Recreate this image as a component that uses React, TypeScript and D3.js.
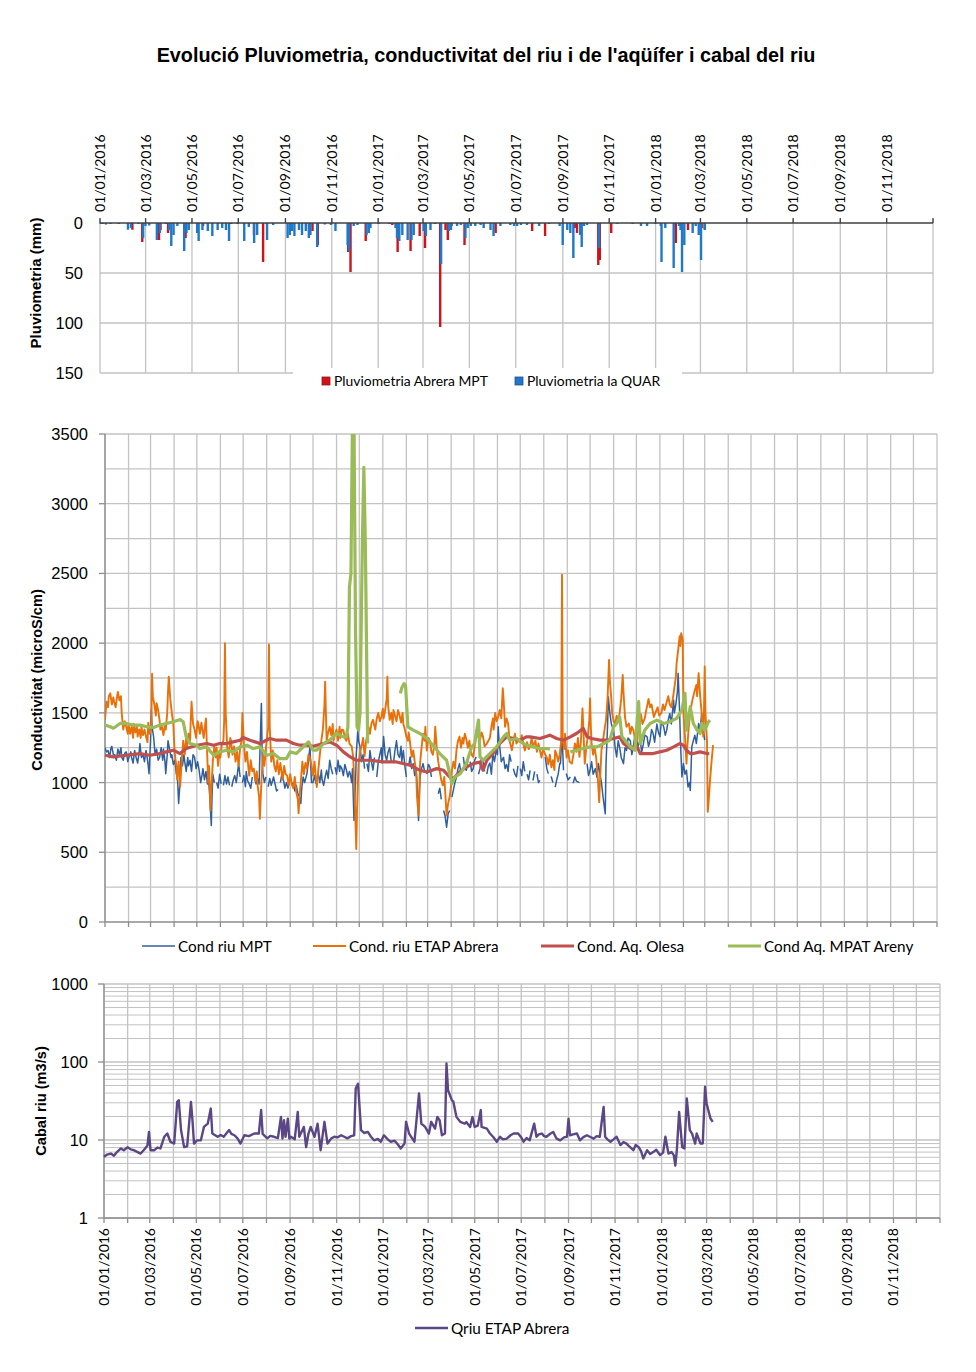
import { useRef, useEffect } from "react";
import * as d3 from "d3";

// All series are [day offset from 01/01/2016, value]; null marks a gap in the line
const START = "2016-01-01";
const END = "2019-01-01";

const TITLE = "Evolució Pluviometria, conductivitat del riu i de l'aqüífer i cabal del riu";

// Pluviometria (mm)
const rainMPT: [number, number][] = [
  [43, 6.7], [56, 19], [78, 17], [80, 7], [90, 10], [113, 15], [136, 3], [173, 1], [203, 12], [215, 39],
  [280, 8], [287, 22], [327, 29], [330, 49], [350, 18], [385, 2], [392, 29], [409, 28], [421, 13], [428, 25],
  [448, 104], [455, 7], [458, 17], [463, 3], [480, 22], [521, 10], [569, 8], [586, 13], [625, 5], [628, 10],
  [656, 42], [658, 37], [673, 10], [758, 20], [774, 7], [792, 5], [796, 6],
];
const rainQUAR: [number, number][] = [
  [0, 1], [3, 1], [7, 1.5], [13, 1], [24, 1], [36, 6.7], [40, 5], [50, 1], [56, 15], [59, 3], [64, 2.5],
  [74, 17], [78, 10], [86, 1], [90, 7], [93, 23], [96, 12], [101, 3], [110, 28], [113, 10], [116, 7],
  [127, 10], [129, 18], [134, 7], [141, 8], [147, 13], [154, 7], [160, 5], [165, 7], [169, 18], [180, 1],
  [189, 18], [195, 4], [202, 20], [206, 12], [219, 17], [227, 2], [246, 15], [249, 12], [252, 8], [255, 13],
  [261, 7], [265, 12], [270, 8], [274, 15], [276, 12], [285, 24], [295, 1.5], [303, 2], [309, 8], [325, 22],
  [327, 28], [333, 3], [338, 2], [350, 12], [353, 10], [355, 5], [366, 1], [380, 1], [388, 5], [390, 15],
  [393, 18], [397, 12], [404, 17], [409, 17], [412, 12], [425, 8], [428, 13], [434, 7], [440, 1], [448, 41],
  [458, 8], [461, 7], [469, 3], [474, 2], [480, 15], [483, 5], [487, 3], [493, 3], [500, 2], [504, 5],
  [513, 7], [517, 13], [526, 3], [539, 2], [544, 3], [548, 3], [553, 2], [561, 2], [577, 3], [590, 1],
  [604, 3], [608, 22], [614, 7], [618, 10], [622, 35], [631, 12], [633, 24], [636, 3], [640, 2], [656, 25],
  [680, 1], [700, 1], [711, 3], [719, 3], [730, 1], [737, 3], [738, 39], [743, 5], [754, 45], [761, 3],
  [763, 7], [765, 49], [768, 22], [779, 10], [783, 3], [787, 12], [790, 37], [795, 7],
];

// Conductivitat (microS/cm)
const condRiuMPT: [number, number | null][] = [
  [0, 1250], [2, 1220], [4, 1230], [6, 1180], [8, 1250], [9, 1260], [11, 1200], [13, 1200], [15, 1160],
  [17, 1240], [19, 1200], [21, 1250], [22, 1180], [24, 1160], [26, 1210], [28, 1220], [30, 1150], [32, 1190],
  [34, 1220], [35, 1180], [37, 1140], [39, 1230], [41, 1180], [43, 1140], [45, 1220], [46, 1280], [48, 1180],
  [50, 1200], [52, 1150], [54, 1230], [55, 1200], [57, 1120], [58, 1064], [60, 1300], [61, 1520], [62, 1400],
  [64, 1330], [66, 1200], [68, 1240], [70, 1160], [72, 1180], [74, 1250], [76, 1160], [77, 1240], [79, 1150],
  [80, 1064], [82, 1200], [83, 1300], [85, 1240], [87, 1180], [88, 1200], [90, 1130], [92, 1160], [94, 1060],
  [95, 1100], [97, 850], [99, 1020], [100, 1180], [102, 1120], [104, 1200], [105, 1150], [107, 1080],
  [109, 1180], [110, 1120], [112, 1160], [114, 1080], [116, 1200], [118, 1180], [120, 1100], [122, 1150],
  [124, 1090], [126, 1000], [128, 1060], [129, 1100], [131, 1020], [133, 1080], [135, 990], [136, 1060],
  [138, 900], [140, 692], [141, 900], [142, 1060], [144, 1000], [145, null], [147, 1000], [149, 960],
  [151, 1060], [153, 990], [154, null], [156, 980], [158, 1050], [160, 990], [162, 1040], [164, 980],
  [165, null], [167, 970], [169, 1020], [171, 1050], [173, 1000], [176, 1136], [178, 1040], [179, null],
  [181, 1000], [183, 1050], [185, 970], [186, 1080], [188, 1010], [190, 990], [192, 960], [194, 1040],
  [195, null], [197, 1060], [199, 990], [201, 1030], [203, 990], [204, 1200], [206, 1568], [207, 1200],
  [208, 1064], [210, 1000], [212, 1040], [213, null], [215, 970], [217, 1030], [219, 980], [222, 1040],
  [224, 990], [226, 940], [228, 950], [229, null], [231, 1000], [233, 1060], [235, 1020], [237, 960],
  [239, 1000], [241, 960], [243, 1010], [244, null], [246, 980], [248, 1000], [250, 940], [252, 980],
  [254, 920], [256, 900], [258, 850], [259, 950], [261, 1040], [263, 1000], [266, 1064], [268, 1150],
  [270, 1256], [271, 1120], [272, 1000], [274, 1000], [276, 1050], [278, 990], [279, null], [281, 1060],
  [283, 1000], [285, 1090], [286, 1020], [288, 980], [290, 1040], [292, 1088], [294, 1030], [296, 1160],
  [298, 1100], [300, 1060], [301, null], [303, 1110], [305, 1060], [307, 1160], [309, 1080], [310, 1120],
  [312, 1100], [314, 1050], [316, 1130], [318, 1090], [320, 1040], [322, 1080], [323, 1064], [325, 1000],
  [326, 1100], [328, 728], [330, 1000], [331, 1200], [333, 1376], [334, 1300], [336, 1256], [338, 1150],
  [340, 1200], [342, 1100], [343, null], [345, 1136], [347, 1080], [349, 1230], [351, 1150], [353, 1090],
  [355, 1180], [356, null], [358, 1040], [360, 1150], [362, 1200], [364, 1250], [365, 1140], [367, 1330],
  [369, 1200], [371, 1160], [373, 1220], [375, 1250], [377, 1150], [378, null], [380, 1140], [382, 1230],
  [384, 1300], [386, 1200], [388, 1180], [390, 1260], [391, 1150], [393, 1230], [395, 1120], [397, 1040],
  [398, null], [400, 1120], [402, 1184], [404, 1100], [406, 1136], [408, 1050], [410, 1090], [412, 900],
  [413, 728], [414, 900], [415, 1040], [417, 1100], [419, 1136], [421, 1080], [422, null], [424, 1060],
  [426, 1130], [428, 1110], [430, 1040], [431, null], [433, 1050], [436, null], [439, 920], [441, 960],
  [443, 880], [444, null], [446, 800], [448, 760], [450, 680], [452, 776], [454, 800], [455, null],
  [457, 896], [459, 950], [461, 1000], [463, 1040], [465, 1100], [467, 1136], [469, 1060], [470, null],
  [472, 1184], [474, 1100], [476, 1088], [478, 1160], [479, null], [481, 1150], [483, 1080], [485, 1100],
  [487, 1160], [489, 1184], [490, null], [492, 1060], [494, 1100], [496, 1180], [498, 1150], [500, 1080],
  [501, null], [503, 1060], [505, 1120], [507, 1140], [509, 1060], [511, 1210], [513, 1150], [516, 1256],
  [517, 1200], [518, 1400], [519, 1300], [520, 1256], [522, 1150], [525, 1180], [527, 1100], [529, 1130],
  [531, 1080], [533, 1200], [535, 1150], [536, null], [538, 1100], [540, 1060], [542, 1040], [544, 1120],
  [545, null], [547, 1100], [549, 1050], [551, 1150], [553, 1080], [554, null], [556, 1060], [558, 1020],
  [560, 1088], [561, null], [563, 1020], [564, 1020], [566, 1080], [567, null], [569, 1060], [571, 1000],
  [573, 1016], [576, null], [580, 1184], [582, 1100], [584, 1064], [585, null], [587, 1040], [588, 1040],
  [590, 1000], [591, null], [593, 968], [595, 1020], [597, 1060], [599, 1136], [600, 1136], [602, 1352],
  [604, 1088], [605, null], [607, 1060], [608, 1060], [610, 1020], [613, 1040], [614, null], [616, 1000],
  [617, 1000], [619, 1040], [621, 1010], [625, 1000], [628, null], [635, 1136], [637, 1050], [639, 1088],
  [641, 1150], [643, 1060], [646, 1100], [648, 1040], [650, 1136], [652, 1060], [654, 1000], [656, 900],
  [659, 776], [660, 1136], [662, 1400], [663, 1616], [665, 1500], [667, 1420], [670, 1376], [672, 1250],
  [674, 1184], [676, 1300], [678, 1250], [680, 1180], [683, 1136], [685, 1250], [687, 1230], [689, 1320],
  [692, 1300], [694, 1200], [696, 1256], [698, 1340], [700, 1330], [702, 1260], [705, 1304], [707, 1220],
  [709, 1270], [711, 1340], [714, 1330], [716, 1260], [718, 1300], [720, 1380], [722, 1352], [724, 1290],
  [727, 1420], [729, 1360], [731, 1330], [733, 1440], [736, 1400], [738, 1340], [740, 1376], [742, 1450],
  [744, 1496], [746, 1420], [749, 1592], [750, 1500], [752, 1560], [754, 1650], [755, 1784], [757, 1500],
  [758, 1300], [760, 1040], [762, 1136], [764, 1060], [766, 1088], [768, 968], [770, 1000], [771, 944],
  [773, 1256], [775, 1300], [777, 1340], [779, 1280], [782, 1424], [784, 1376], [786, 1496], [788, 1376],
  [790, 1304],
];
const condRiuETAP: [number, number | null][] = [
  [0, 1450], [2, 1580], [4, 1540], [5, 1620], [7, 1640], [9, 1560], [11, 1610], [12, 1580], [14, 1540],
  [16, 1620], [17, 1650], [19, 1590], [21, 1620], [22, 1500], [24, 1380], [26, 1440], [28, 1400], [30, 1350],
  [31, 1420], [33, 1350], [35, 1400], [37, 1320], [38, 1420], [40, 1360], [42, 1400], [43, 1330], [45, 1380],
  [47, 1320], [48, 1400], [50, 1340], [52, 1380], [54, 1330], [56, 1290], [57, 1430], [59, 1350], [61, 1400],
  [62, 1780], [63, 1620], [65, 1560], [67, 1480], [68, 1570], [70, 1520], [72, 1440], [73, 1380], [75, 1400],
  [77, 1340], [79, 1420], [80, 1380], [82, 1500], [83, 1650], [84, 1760], [86, 1600], [88, 1500], [90, 1420],
  [91, 1300], [92, 1200], [94, 1120], [95, 1020], [97, 1150], [99, 970], [101, 1150], [103, 1300],
  [105, 1200], [107, 1320], [108, 1250], [110, 1350], [112, 1300], [113, 1450], [114, 1580], [116, 1420],
  [118, 1380], [120, 1320], [122, 1440], [123, 1420], [125, 1350], [127, 1430], [128, 1390], [130, 1320],
  [132, 1420], [133, 1460], [134, 1300], [136, 1000], [137, 1120], [139, 800], [140, 950], [142, 1150],
  [144, 1260], [146, 1180], [147, 1250], [149, 1120], [151, 1230], [152, 1180], [154, 1280], [156, 1300],
  [157, 1450], [158, 2000], [159, 1500], [161, 1250], [163, 1180], [165, 1320], [166, 1300], [168, 1200],
  [170, 1260], [172, 1150], [174, 1220], [176, 1120], [178, 1250], [180, 1300], [181, 1500], [183, 1280],
  [185, 1150], [187, 1220], [189, 1100], [190, 1050], [192, 1160], [194, 1080], [196, 1100], [198, 1010],
  [200, 1080], [201, 980], [203, 900], [204, 740], [206, 1000], [208, 1200], [210, 1120], [212, 1250],
  [213, 1300], [215, 1400], [216, 1990], [217, 1400], [219, 1150], [221, 1230], [223, 1120], [225, 1080],
  [227, 1160], [229, 1060], [231, 1140], [232, 1100], [234, 1020], [236, 1120], [238, 1060], [240, 1050],
  [242, 980], [244, 1060], [246, 990], [248, 960], [250, 1040], [252, 930], [254, 880], [255, 780],
  [257, 950], [259, 1080], [260, 1150], [262, 1060], [264, 1140], [266, 1100], [268, 1200], [270, 1180],
  [272, 1120], [274, 1050], [276, 1150], [278, 1020], [279, 968], [281, 1090], [283, 1200], [285, 1300],
  [287, 1380], [289, 1550], [290, 1724], [291, 1500], [292, 1300], [294, 1360], [296, 1400], [298, 1340],
  [300, 1420], [301, 1300], [303, 1350], [305, 1380], [307, 1300], [309, 1400], [310, 1320], [312, 1380],
  [314, 1376], [316, 1320], [318, 1300], [320, 1350], [322, 1280], [325, 1260], [327, 1180], [329, 900],
  [331, 524], [332, 800], [334, 1136], [336, 1220], [338, 1260], [340, 1320], [342, 1190], [344, 1300],
  [346, 1360], [347, 1400], [349, 1350], [351, 1424], [353, 1450], [356, 1380], [358, 1460], [360, 1500],
  [362, 1440], [364, 1470], [366, 1530], [367, 1460], [369, 1520], [371, 1600], [372, 1760], [373, 1550],
  [375, 1450], [377, 1500], [379, 1420], [380, 1520], [382, 1480], [384, 1440], [386, 1520], [388, 1484],
  [390, 1430], [392, 1500], [393, 1420], [395, 1380], [397, 1330], [399, 1300], [400, 1360], [402, 1280],
  [404, 1184], [406, 1230], [408, 1150], [410, 1064], [411, 900], [413, 764], [414, 900], [415, 1136],
  [417, 1250], [419, 1350], [421, 1300], [422, 1400], [424, 1230], [426, 1320], [428, 1300], [430, 1220],
  [432, 1200], [434, 1280], [435, 1400], [437, 1250], [439, 1150], [441, 1080], [443, 1016], [445, 980],
  [447, 1040], [448, 944], [450, 764], [452, 850], [454, 896], [456, 980], [457, 1088], [459, 1150],
  [461, 1100], [463, 1232], [465, 1300], [467, 1330], [469, 1250], [471, 1320], [472, 1280], [474, 1350],
  [476, 1310], [478, 1250], [480, 1300], [481, 1256], [483, 1200], [485, 1184], [487, 1260], [489, 1376],
  [491, 1330], [492, 1420], [494, 1300], [496, 1360], [498, 1330], [500, 1260], [503, 1280], [505, 1300],
  [507, 1320], [509, 1400], [511, 1460], [512, 1380], [514, 1500], [516, 1440], [518, 1470], [520, 1520],
  [522, 1460], [524, 1676], [525, 1600], [527, 1400], [529, 1460], [531, 1424], [533, 1300], [536, 1232],
  [538, 1300], [540, 1350], [542, 1280], [544, 1300], [547, 1290], [549, 1340], [551, 1280], [553, 1230],
  [556, 1290], [558, 1240], [560, 1256], [562, 1320], [564, 1260], [567, 1300], [569, 1220], [571, 1280],
  [573, 1230], [575, 1180], [577, 1240], [580, 1200], [582, 1180], [584, 1130], [586, 1200], [588, 1110],
  [590, 1160], [592, 1090], [593, 1230], [595, 1200], [597, 1150], [599, 1200], [601, 1300], [602, 2490],
  [603, 1300], [605, 1240], [606, 1350], [608, 1180], [610, 1230], [612, 1150], [615, 1136], [617, 1200],
  [619, 1280], [621, 1220], [623, 1320], [625, 1184], [627, 1300], [629, 1532], [630, 1400], [632, 1136],
  [634, 1250], [636, 1330], [638, 1450], [639, 1604], [640, 1400], [641, 1280], [643, 1200], [645, 1250],
  [647, 1180], [649, 1050], [651, 860], [652, 1000], [654, 1232], [656, 1300], [658, 1380], [660, 1450],
  [662, 1600], [664, 1880], [665, 1736], [667, 1600], [668, 1500], [670, 1440], [672, 1424], [674, 1480],
  [676, 1440], [678, 1500], [680, 1600], [682, 1772], [683, 1650], [685, 1470], [687, 1400], [690, 1424],
  [692, 1350], [694, 1400], [696, 1376], [698, 1320], [700, 1280], [702, 1350], [704, 1440], [706, 1490],
  [708, 1420], [711, 1460], [713, 1520], [716, 1600], [718, 1540], [720, 1560], [723, 1470], [725, 1500],
  [728, 1540], [730, 1480], [733, 1500], [735, 1560], [737, 1520], [739, 1560], [742, 1620], [744, 1560],
  [746, 1540], [748, 1600], [750, 1680], [752, 1760], [753, 1856], [755, 1950], [757, 2050], [758, 1980],
  [759, 2072], [761, 2024], [762, 1500], [764, 1330], [766, 1136], [767, 1250], [769, 1400], [771, 1500],
  [773, 1570], [775, 1620], [777, 1664], [779, 1700], [780, 1620], [782, 1784], [784, 1620], [786, 1500],
  [788, 1330], [789, 1500], [790, 1832], [791, 1500], [793, 1300], [794, 790], [795, 850], [797, 1016],
  [799, 1150], [801, 1268],
];
const condAqOlesa: [number, number | null][] = [
  [0, 1196], [11, 1184], [28, 1196], [46, 1208], [59, 1196], [72, 1208], [81, 1220], [90, 1232], [99, 1208],
  [107, 1244], [121, 1268], [134, 1280], [143, 1268], [151, 1280], [160, 1280], [169, 1292], [178, 1304],
  [182, 1323], [191, 1304], [204, 1280], [217, 1316], [226, 1304], [239, 1304], [248, 1280], [257, 1268],
  [266, 1268], [274, 1260], [288, 1280], [296, 1292], [305, 1268], [314, 1220], [323, 1184], [331, 1160],
  [349, 1160], [367, 1148], [384, 1148], [402, 1124], [415, 1088], [424, 1076], [437, 1100], [446, 1088],
  [454, 1040], [459, 1028], [467, 1076], [476, 1112], [485, 1136], [494, 1148], [498, 1088], [503, 1160],
  [511, 1208], [520, 1280], [529, 1328], [538, 1316], [547, 1304], [555, 1328], [560, 1328], [573, 1316],
  [586, 1340], [595, 1316], [604, 1304], [613, 1328], [621, 1352], [630, 1388], [635, 1328], [641, 1316],
  [652, 1304], [661, 1304], [670, 1316], [678, 1328], [683, 1280], [692, 1244], [700, 1268], [705, 1208],
  [714, 1208], [722, 1208], [731, 1220], [740, 1232], [749, 1256], [757, 1280], [762, 1268], [766, 1232],
  [771, 1208], [775, 1208], [784, 1220], [793, 1208], [796, 1208],
];
const condAqMPAT: [number, number | null][] = [
  [0, 1412], [7, 1400], [11, 1390], [20, 1424], [28, 1424], [37, 1412], [46, 1412], [55, 1400], [64, 1395],
  [72, 1412], [81, 1424], [90, 1436], [99, 1453], [103, 1436], [107, 1328], [112, 1280], [121, 1268],
  [125, 1244], [134, 1256], [143, 1196], [151, 1220], [160, 1232], [169, 1220], [178, 1256], [187, 1268],
  [195, 1244], [204, 1256], [213, 1196], [222, 1208], [230, 1172], [239, 1172], [244, 1220], [252, 1208],
  [261, 1256], [268, 1292], [274, 1232], [279, 1232], [288, 1280], [296, 1304], [305, 1352], [314, 1328],
  [318, 1328], [320, 1400], [322, 2400], [324, 2500], [326, 3600], [328, 3600], [330, 2100], [332, 1400],
  [334, 1376], [336, 1500], [339, 2720], [341, 3260], [343, 2700], [346, 1280], [347, null], [389, 1640],
  [391, 1680], [394, 1710], [396, 1690], [399, 1400], [406, 1376], [415, 1352], [424, 1316], [432, 1268],
  [441, 1208], [450, 1160], [454, 1064], [457, 992], [461, 1040], [468, 1064], [476, 1136], [483, 1256],
  [487, 1280], [492, 1448], [494, 1184], [498, 1160], [507, 1208], [516, 1256], [525, 1328], [529, 1352],
  [533, 1304], [542, 1316], [551, 1280], [556, 1268], [564, 1256], [573, 1244], [582, 1244], [586, 1240],
  [587, null], [613, 1220], [621, 1232], [630, 1244], [639, 1256], [648, 1256], [657, 1280], [665, 1304],
  [670, 1400], [674, 1424], [678, 1472], [681, 1328], [685, 1304], [692, 1256], [698, 1232], [703, 1580],
  [705, 1280], [711, 1376], [718, 1424], [727, 1448], [736, 1424], [744, 1436], [753, 1460], [760, 1520],
  [764, 1640], [766, 1376], [771, 1544], [775, 1424], [780, 1376], [784, 1352], [786, 1424], [790, 1376],
  [795, 1436], [797, 1448],
];

// Cabal riu (m3/s)
const qRiuETAP: [number, number][] = [
  [0, 6.1], [4, 6.5], [9, 6.7], [13, 6.3], [17, 7.0], [22, 7.8], [26, 7.4], [31, 8.1], [35, 7.6], [39, 7.4],
  [44, 7.0], [48, 6.7], [52, 7.4], [57, 8.5], [59, 12.7], [61, 7.4], [66, 7.4], [70, 8.0], [74, 7.8],
  [79, 11], [83, 12.1], [87, 9.5], [92, 9], [96, 30.8], [98, 32.4], [101, 13.4], [105, 8.1], [109, 8.3],
  [114, 30.8], [116, 17.9], [118, 9], [122, 9.9], [127, 9.9], [131, 14.7], [136, 16.2], [140, 25.3],
  [142, 12.1], [149, 11], [153, 11.6], [157, 11], [164, 13.4], [167, 12], [171, 11.5], [175, 10.5], [179, 9],
  [184, 11.5], [190, 11.2], [197, 12.1], [203, 12.1], [206, 24.2], [208, 12], [214, 10.5], [218, 11.3],
  [223, 11], [228, 10.6], [232, 19.8], [234, 10.4], [236, 17.9], [238, 11], [241, 18.8], [243, 10.4],
  [245, 11], [250, 10.2], [254, 22.9], [256, 11], [262, 14.7], [265, 8.1], [268, 12], [271, 14.7], [276, 11],
  [280, 16.2], [284, 7.4], [289, 17.1], [293, 9], [298, 10.5], [302, 11], [306, 10.8], [311, 11.5],
  [315, 11], [319, 10.5], [324, 11.2], [328, 11.5], [330, 45.7], [333, 52.8], [337, 13.4], [341, 12.3],
  [346, 12.7], [350, 11], [354, 9.9], [359, 10.3], [363, 9.5], [367, 11.5], [372, 10.2], [376, 9.5],
  [381, 9.8], [385, 8.8], [389, 7.8], [394, 9], [396, 17.1], [400, 12.1], [404, 10.5], [407, 9.5],
  [413, 39.6], [416, 16.2], [421, 14.7], [426, 12.1], [429, 17.1], [434, 14], [437, 19.8], [440, 17.9],
  [443, 11.5], [447, 12.1], [449, 95.6], [451, 43.6], [456, 32.4], [458, 31], [462, 19.8], [467, 17.1],
  [473, 16.2], [475, 17], [480, 14.7], [483, 19.8], [486, 14.7], [490, 15.3], [494, 24.2], [495, 14.7],
  [502, 14], [506, 12.1], [510, 11], [515, 9.5], [519, 11], [523, 10.2], [528, 10.4], [533, 11.5],
  [537, 12.1], [543, 12.1], [547, 10.8], [550, 9.5], [554, 10.6], [558, 9.9], [564, 16.2], [567, 11],
  [570, 11.8], [574, 12.1], [577, 11.2], [580, 11], [585, 12], [589, 12.7], [593, 10.5], [598, 9.9],
  [603, 10.8], [607, 11], [609, 18.8], [611, 11.5], [615, 11.8], [620, 12.1], [624, 9.9], [628, 10.8],
  [633, 11.5], [637, 11], [642, 10.4], [646, 11.2], [650, 11], [655, 26.6], [657, 11], [660, 10.2],
  [664, 9.5], [668, 10.2], [672, 11], [677, 8.6], [681, 9.4], [685, 9], [689, 8.2], [694, 7.4], [697, 8.6],
  [701, 8.1], [704, 7.2], [707, 5.8], [712, 7.4], [716, 6.6], [720, 7], [724, 7.5], [729, 6.4], [733, 6.9],
  [736, 11], [740, 6.7], [744, 7], [747, 6.4], [749, 4.7], [751, 7.4], [754, 22.9], [758, 8.1], [761, 7.8],
  [764, 34.1], [768, 13.4], [771, 12.1], [775, 9], [777, 12.1], [782, 9], [785, 9], [788, 48.1], [790, 29.3],
  [795, 19], [798, 17.1],
];

const condSeries = [
  { name: "Cond riu MPT", data: condRiuMPT, color: "#2f5f9e", width: 1.5 },
  { name: "Cond. riu ETAP Abrera", data: condRiuETAP, color: "#e8710a", width: 1.9 },
  { name: "Cond. Aq. Olesa", data: condAqOlesa, color: "#c0504d", width: 3.2 },
  { name: "Cond Aq. MPAT Areny", data: condAqMPAT, color: "#9bbb59", width: 3.2 },
];
const condLegendX = [142, 313, 541, 728];

const rainTicks = [0, 50, 100, 150];
const condTicks = [0, 500, 1000, 1500, 2000, 2500, 3000, 3500];
const flowTicks = [1, 10, 100, 1000];

const GRID = "#c3c3c3";
const AXIS = "#8c8c8c";
const NUM_FONT = "'Liberation Sans', Arial, sans-serif";
const LBL_FONT = "Lato, 'Open Sans', sans-serif";

export default function App() {
  const svgRef = useRef<SVGSVGElement>(null);

  useEffect(() => {
    if (!svgRef.current) return;
    const svg = d3.select(svgRef.current);
    svg.selectAll("*").remove();

    const t0 = new Date(START + "T00:00:00");
    const t1 = new Date(END + "T00:00:00");
    const toDate = (d: number) => new Date(t0.getTime() + d * 864e5);
    const fmt = d3.timeFormat("%d/%m/%Y");
    const months = d3.timeMonth.range(t0, d3.timeDay.offset(t1, 1));
    const twoMonths = months.filter((_, i) => i % 2 === 0 && i < months.length - 1);

    svg.append("rect").attr("width", 976).attr("height", 1372).attr("fill", "#fff");

    svg.append("text").attr("x", 486).attr("y", 62).attr("text-anchor", "middle")
      .attr("font-family", NUM_FONT).attr("font-weight", "bold").attr("font-size", "19.8px")
      .text(TITLE);

    const yTitle = (txt: string, x: number, y: number, size: number) =>
      svg.append("text").attr("transform", `translate(${x},${y}) rotate(-90)`)
        .attr("text-anchor", "middle").attr("font-family", NUM_FONT).attr("font-weight", "bold")
        .attr("font-size", `${size}px`).text(txt);

    // ---------- Pluviometria ----------
    {
      const x = d3.scaleTime().domain([t0, t1]).range([100, 933]);
      const y = d3.scaleLinear().domain([0, 150]).range([223, 373]);
      const g = svg.append("g");

      twoMonths.concat([t1]).forEach(d => {
        g.append("line").attr("x1", x(d)).attr("x2", x(d)).attr("y1", 219).attr("y2", 373)
          .attr("stroke", GRID).attr("stroke-width", 1.3);
      });
      rainTicks.slice(1).forEach(v => {
        g.append("line").attr("x1", 100).attr("x2", 933).attr("y1", y(v)).attr("y2", y(v))
          .attr("stroke", GRID).attr("stroke-width", 1.3);
      });

      g.selectAll(".rm").data(rainMPT).join("rect")
        .attr("x", d => x(toDate(d[0])) - 1.5).attr("y", y(0))
        .attr("width", 2.4).attr("height", d => y(d[1]) - y(0)).attr("fill", "#d0121b");
      g.selectAll(".rq").data(rainQUAR).join("rect")
        .attr("x", d => x(toDate(d[0])) - 0.6).attr("y", y(0))
        .attr("width", 2.4).attr("height", d => y(d[1]) - y(0)).attr("fill", "#1f78c8");

      g.append("line").attr("x1", 100).attr("x2", 933).attr("y1", y(0)).attr("y2", y(0))
        .attr("stroke", "#404040").attr("stroke-width", 1.3);
      twoMonths.concat([t1]).forEach(d => {
        g.append("line").attr("x1", x(d)).attr("x2", x(d)).attr("y1", 218).attr("y2", 223)
          .attr("stroke", "#404040").attr("stroke-width", 1.3);
      });

      twoMonths.forEach(d => {
        g.append("text").attr("transform", `translate(${x(d) + 5},212) rotate(-90)`)
          .attr("font-family", LBL_FONT).attr("font-size", "14px").attr("fill", "#000").text(fmt(d));
      });
      rainTicks.forEach(v => {
        g.append("text").attr("x", 83).attr("y", y(v) + 6).attr("text-anchor", "end")
          .attr("font-family", NUM_FONT).attr("font-size", "16.5px").text(v);
      });
      yTitle("Pluviometria (mm)", 41, 283, 15);

      // legend
      g.append("rect").attr("x", 293).attr("y", 368).attr("width", 389).attr("height", 27).attr("fill", "#fff");
      const leg = [
        { name: "Pluviometria Abrera MPT", color: "#d0121b", stroke: "#8e1a1a", x: 322 },
        { name: "Pluviometria la QUAR", color: "#1f78c8", stroke: "#27508a", x: 515 },
      ];
      leg.forEach(l => {
        g.append("rect").attr("x", l.x).attr("y", 377).attr("width", 8).attr("height", 8)
          .attr("fill", l.color).attr("stroke", l.stroke).attr("stroke-width", 0.8);
        g.append("text").attr("x", l.x + 12).attr("y", 386).attr("font-family", LBL_FONT)
          .attr("font-size", "13.9px").text(l.name);
      });
    }

    // ---------- Conductivitat ----------
    {
      const x = d3.scaleTime().domain([t0, t1]).range([105, 937]);
      const y = d3.scaleLinear().domain([0, 3500]).range([922, 434]);
      const g = svg.append("g");

      months.forEach(d => {
        g.append("line").attr("x1", x(d)).attr("x2", x(d)).attr("y1", 434).attr("y2", 922)
          .attr("stroke", GRID).attr("stroke-width", 1.3);
      });
      d3.range(250, 3501, 250).forEach(v => {
        g.append("line").attr("x1", 105).attr("x2", 937).attr("y1", y(v)).attr("y2", y(v))
          .attr("stroke", GRID).attr("stroke-width", 1.3);
      });
      g.append("line").attr("x1", 105).attr("x2", 105).attr("y1", 434).attr("y2", 922)
        .attr("stroke", AXIS).attr("stroke-width", 1.3);
      g.append("line").attr("x1", 105).attr("x2", 937).attr("y1", 922).attr("y2", 922)
        .attr("stroke", AXIS).attr("stroke-width", 1.3);
      condTicks.forEach(v => {
        g.append("line").attr("x1", 99).attr("x2", 105).attr("y1", y(v)).attr("y2", y(v))
          .attr("stroke", AXIS).attr("stroke-width", 1.3);
        g.append("text").attr("x", 88).attr("y", y(v) + 6).attr("text-anchor", "end")
          .attr("font-family", NUM_FONT).attr("font-size", "16.5px").text(v);
      });
      months.forEach(d => {
        g.append("line").attr("x1", x(d)).attr("x2", x(d)).attr("y1", 922).attr("y2", 927)
          .attr("stroke", AXIS).attr("stroke-width", 1.3);
      });

      svg.append("clipPath").attr("id", "cond-clip").append("rect")
        .attr("x", 105).attr("y", 434).attr("width", 832).attr("height", 488);
      const line = d3.line<[number, number | null]>()
        .defined(d => d[1] !== null)
        .x(d => x(toDate(d[0]))).y(d => y(d[1] as number));
      condSeries.forEach(s => {
        g.append("path").datum(s.data).attr("clip-path", "url(#cond-clip)")
          .attr("fill", "none").attr("stroke", s.color).attr("stroke-width", s.width)
          .attr("stroke-linejoin", "round").attr("d", line);
      });

      yTitle("Conductivitat (microS/cm)", 42, 680, 14.6);

      condSeries.forEach((s, i) => {
        const lx = condLegendX[i];
        g.append("line").attr("x1", lx).attr("x2", lx + 33).attr("y1", 946).attr("y2", 946)
          .attr("stroke", s.color).attr("stroke-width", s.width);
        g.append("text").attr("x", lx + 36).attr("y", 952).attr("font-family", LBL_FONT)
          .attr("font-size", "15.3px").text(s.name);
      });
    }

    // ---------- Cabal ----------
    {
      const x = d3.scaleTime().domain([t0, t1]).range([104, 940]);
      const y = d3.scaleLog().domain([1, 1000]).range([1218, 984]);
      const g = svg.append("g");

      months.forEach(d => {
        g.append("line").attr("x1", x(d)).attr("x2", x(d)).attr("y1", 984).attr("y2", 1218)
          .attr("stroke", GRID).attr("stroke-width", 1.3);
      });
      [1, 10, 100].forEach(dec => {
        d3.range(1, 10).forEach(k => {
          const v = dec * k;
          g.append("line").attr("x1", 104).attr("x2", 940).attr("y1", y(v)).attr("y2", y(v))
            .attr("stroke", GRID).attr("stroke-width", k === 1 ? 1.3 : 1);
        });
      });
      g.append("line").attr("x1", 104).attr("x2", 940).attr("y1", y(1000)).attr("y2", y(1000))
        .attr("stroke", GRID).attr("stroke-width", 1.3);
      g.append("line").attr("x1", 104).attr("x2", 104).attr("y1", 984).attr("y2", 1218)
        .attr("stroke", AXIS).attr("stroke-width", 1.3);
      g.append("line").attr("x1", 104).attr("x2", 940).attr("y1", 1218).attr("y2", 1218)
        .attr("stroke", AXIS).attr("stroke-width", 1.3);
      flowTicks.forEach(v => {
        g.append("line").attr("x1", 98).attr("x2", 104).attr("y1", y(v)).attr("y2", y(v))
          .attr("stroke", AXIS).attr("stroke-width", 1.3);
        g.append("text").attr("x", 88).attr("y", y(v) + 6).attr("text-anchor", "end")
          .attr("font-family", NUM_FONT).attr("font-size", "16.5px").text(v);
      });
      months.forEach(d => {
        g.append("line").attr("x1", x(d)).attr("x2", x(d)).attr("y1", 1218).attr("y2", 1223)
          .attr("stroke", AXIS).attr("stroke-width", 1.3);
      });
      twoMonths.forEach(d => {
        g.append("text").attr("transform", `translate(${x(d) + 5},1228) rotate(-90)`)
          .attr("text-anchor", "end").attr("font-family", LBL_FONT).attr("font-size", "14px")
          .text(fmt(d));
      });

      const line = d3.line<[number, number]>()
        .x(d => x(toDate(d[0]))).y(d => y(d[1]));
      g.append("path").datum(qRiuETAP).attr("fill", "none").attr("stroke", "#5b4785")
        .attr("stroke-width", 2.4).attr("stroke-linejoin", "round").attr("d", line);

      yTitle("Cabal riu (m3/s)", 46, 1101, 14.6);

      g.append("line").attr("x1", 415).attr("x2", 448).attr("y1", 1328).attr("y2", 1328)
        .attr("stroke", "#5b4785").attr("stroke-width", 2.4);
      g.append("text").attr("x", 451).attr("y", 1333.5).attr("font-family", LBL_FONT)
        .attr("font-size", "15.3px").text("Qriu ETAP Abrera");
    }
  }, []);

  return (
    <svg ref={svgRef} width={976} height={1372}
      style={{ position: "absolute", left: 0, top: 0, display: "block" }} />
  );
}
